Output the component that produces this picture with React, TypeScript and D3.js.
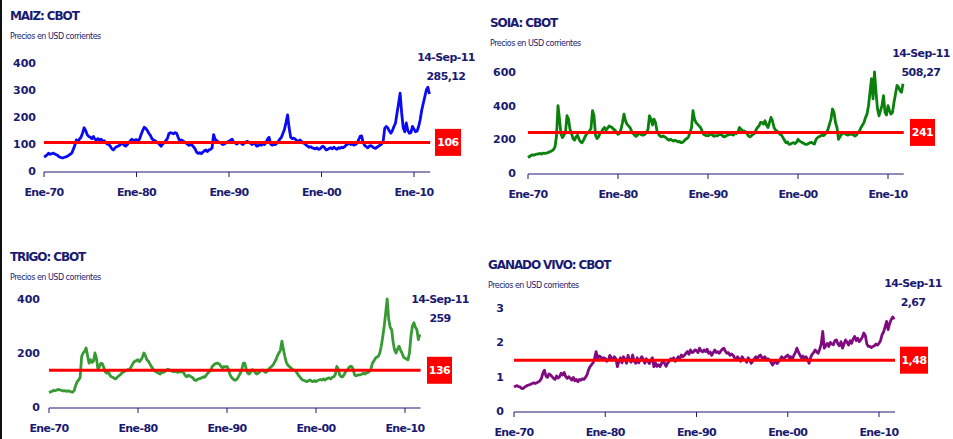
import React from "react";
import * as d3 from "d3";

// bimonthly closes (Jan, Mar, May, Jul, Sep, Nov) starting Jan-1970, ending Sep-2011
const maizValues = [
  52, 55, 60, 66, 62, 64, 66, 63, 60, 57, 52, 50, 48, 50, 52, 54, 58, 62,
  66, 80, 95, 115, 108, 118, 125, 140, 160, 150, 135, 128, 125, 120, 128, 118, 115, 120,
  115, 118, 110, 112, 105, 100, 98, 92, 82, 78, 85, 90, 92, 95, 100, 104, 95, 92,
  98, 105, 112, 118, 110, 115, 116, 112, 118, 135, 150, 162, 158, 150, 140, 132, 120, 115,
  112, 108, 104, 98, 92, 100, 105, 112, 120, 138, 142, 140, 138, 142, 140, 125, 112, 115,
  112, 108, 104, 100, 95, 98, 96, 90, 82, 70, 65, 68, 64, 70, 74, 78, 72, 78,
  80, 85, 135, 118, 112, 108, 106, 102, 98, 100, 104, 108, 110, 114, 118, 108, 104, 100,
  104, 106, 102, 98, 104, 108, 110, 106, 102, 98, 104, 100, 92, 94, 98, 96, 100, 98,
  105, 118, 125, 100, 96, 98, 98, 102, 110, 118, 125, 140, 155, 180, 208, 160, 125, 120,
  122, 118, 112, 108, 115, 110, 104, 102, 96, 92, 88, 90, 86, 84, 82, 86, 80, 82,
  88, 92, 86, 78, 80, 84, 86, 82, 88, 84, 80, 86, 84, 88, 86, 90, 96, 100,
  104, 98, 100, 96, 98, 102, 115, 128, 130, 105, 95, 90, 86, 92, 94, 90, 86, 84,
  88, 92, 96, 100, 110, 158, 165, 160, 148, 140, 150, 165, 178, 215, 250, 288, 215, 160,
  145, 178, 150, 140, 142, 165, 155, 145, 148, 165, 190, 225, 250, 275, 300, 310, 285,
];

const soiaValues = [
  92, 98, 104, 108, 106, 110, 112, 114, 116, 112, 118, 116, 118, 120, 124, 128, 132, 140,
  155, 220, 400, 320, 230, 210, 225, 245, 340, 320, 260, 235, 205, 195, 215, 225, 200, 185,
  180, 195, 215, 230, 240, 250, 265, 370, 340, 225, 205, 215, 235, 245, 260, 270, 255, 265,
  280, 275, 270, 260, 255, 240, 230, 235, 260, 300, 350, 310, 290, 280, 270, 250, 235, 225,
  218, 225, 240, 230, 225, 225, 230, 240, 260, 340, 320, 285, 320, 300, 250, 230, 220, 215,
  220, 215, 210, 200, 195, 200, 195, 190, 195, 190, 185, 188, 180, 182, 190, 200, 205, 215,
  240, 270, 370, 320, 300, 290, 280, 270, 250, 230, 225, 222, 220, 228, 232, 225, 218, 222,
  220, 225, 230, 228, 218, 215, 220, 225, 228, 232, 228, 225, 240, 235, 245, 270, 260, 250,
  250, 245, 235, 220, 215, 222, 230, 235, 255, 270, 280, 300, 300, 290, 310, 285, 270, 300,
  330, 310, 270, 255, 250, 240, 230, 225, 210, 195, 180, 185, 170, 172, 178, 180, 175, 182,
  200, 190, 185, 180, 175, 170, 170, 175, 180, 182, 176, 172, 200, 210, 215, 220, 225, 222,
  230, 240, 260, 290, 320, 380, 360, 300, 270, 200, 215, 230, 240, 235, 230, 225, 228, 232,
  230, 225, 220, 225, 240, 250, 270, 285, 300, 330, 350, 400, 480, 560, 440, 600, 480, 380,
  340, 370, 400, 460, 360, 345, 400, 370, 350, 360, 420, 470, 520, 510, 490, 480, 530,
];

const trigoValues = [
  54, 56, 58, 62, 60, 62, 65, 64, 62, 60, 61, 60, 58, 60, 58, 56, 55, 62,
  80, 94, 100, 110, 187, 200, 206, 219, 190, 162, 175, 165, 170, 200, 180, 140, 150, 162,
  160, 145, 130, 125, 130, 118, 112, 110, 106, 104, 110, 115, 119, 125, 130, 132, 135, 138,
  137, 145, 155, 165, 170, 172, 175, 168, 175, 185, 200, 190, 175, 170, 160, 150, 142, 135,
  131, 128, 125, 122, 130, 128, 131, 135, 140, 138, 135, 132, 131, 133, 130, 128, 132, 130,
  131, 125, 115, 112, 118, 114, 112, 108, 100, 98, 102, 104, 106, 108, 112, 110, 118, 125,
  131, 135, 150, 155, 160, 162, 162, 158, 150, 145, 150, 148, 150, 140, 120, 110, 104, 100,
  100, 105, 115, 125, 140, 162, 162, 140, 125, 122, 130, 138, 137, 128, 122, 125, 130, 135,
  137, 132, 128, 131, 140, 145, 150, 155, 165, 175, 190, 200, 210, 244, 215, 187, 165, 155,
  150, 145, 140, 137, 135, 128, 119, 112, 105, 100, 98, 96, 94, 98, 100, 96, 94, 98,
  94, 98, 100, 102, 100, 104, 100, 104, 106, 108, 104, 110, 112, 120, 150, 140, 118, 112,
  112, 120, 131, 135, 145, 150, 150, 140, 119, 115, 118, 119, 119, 122, 125, 122, 126, 128,
  131, 140, 162, 170, 180, 185, 187, 200, 225, 260, 300, 350, 400, 325, 295, 287, 240, 210,
  200, 215, 225, 210, 200, 185, 181, 178, 175, 200, 262, 300, 312, 295, 287, 250, 269,
];

const ganadoValues = [
  0.7, 0.72, 0.74, 0.71, 0.7, 0.66, 0.65, 0.7, 0.72, 0.75, 0.76, 0.78, 0.8, 0.82, 0.8, 0.82, 0.85, 0.88,
  0.95, 1.1, 1.19, 1.02, 0.98, 1.08, 1.05, 1.0, 0.95, 0.92, 1.02, 0.96, 1.0, 1.1, 1.05, 1.12, 1.0, 0.95,
  1.0, 0.95, 0.9, 0.98, 0.88, 0.92, 0.85, 0.92, 0.9, 0.94, 0.92, 0.98, 1.05, 1.2, 1.29, 1.35, 1.4, 1.55,
  1.73, 1.49, 1.6, 1.58, 1.5, 1.55, 1.53, 1.45, 1.49, 1.62, 1.55, 1.48, 1.58, 1.52, 1.29, 1.45, 1.55, 1.4,
  1.58, 1.5, 1.39, 1.62, 1.48, 1.42, 1.63, 1.45, 1.39, 1.55, 1.4, 1.5, 1.58, 1.5, 1.39, 1.52, 1.45, 1.38,
  1.49, 1.55, 1.29, 1.4, 1.3, 1.35, 1.29, 1.38, 1.45, 1.39, 1.3, 1.4, 1.44, 1.52, 1.49, 1.55, 1.45, 1.5,
  1.58, 1.52, 1.63, 1.58, 1.62, 1.68, 1.73, 1.65, 1.78, 1.7, 1.72, 1.78, 1.76, 1.7, 1.83, 1.75, 1.72, 1.78,
  1.73, 1.8, 1.68, 1.72, 1.62, 1.7, 1.78, 1.7, 1.73, 1.68, 1.75, 1.8, 1.83, 1.74, 1.68, 1.7, 1.62, 1.66,
  1.63, 1.55, 1.49, 1.58, 1.52, 1.45, 1.58, 1.5, 1.49, 1.42, 1.55, 1.48, 1.39, 1.45, 1.52, 1.58, 1.5, 1.6,
  1.63, 1.55, 1.53, 1.58, 1.48, 1.52, 1.49, 1.42, 1.34, 1.4, 1.45, 1.38, 1.44, 1.5, 1.58, 1.52, 1.55, 1.6,
  1.63, 1.55, 1.58, 1.5, 1.62, 1.7, 1.83, 1.72, 1.63, 1.55, 1.6, 1.52, 1.58, 1.5, 1.39, 1.55, 1.65, 1.7,
  1.78, 1.72, 1.68, 1.8, 1.95, 2.32, 1.83, 1.9, 1.97, 1.88, 2.0, 1.95, 1.93, 2.05, 2.07, 1.95, 1.9, 2.02,
  1.83, 1.95, 2.07, 2.0, 1.92, 2.05, 1.97, 2.1, 2.17, 2.05, 2.12, 2.02, 2.07, 2.15, 2.27, 2.2, 1.95, 1.88,
  1.88, 1.85, 1.88, 1.9, 1.95, 1.92, 1.97, 2.05, 2.22, 2.3, 2.45, 2.61, 2.37, 2.55, 2.66, 2.74, 2.67,
];

const decadeTicks = [1970, 1980, 1990, 2000, 2010];
const decadeLabels = ["Ene-70", "Ene-80", "Ene-90", "Ene-00", "Ene-10"];
const lastDate = "14-Sep-11";

const NAVY = "#1a1a70";
const FONT = "'DejaVu Sans', Verdana, sans-serif";

type Panel = {
  title: string;
  values: number[];
  color: string;
  yTicks: number[];
  average: number;
  averageLabel: string;
  lastLabel: string;
  // layout
  x70: number;
  x10: number;
  y0: number;
  yTop: number;
  titleX: number;
  titleY: number;
  labelRight: number;
  boxX: number;
  boxW: number;
  noteX: number;
  noteY: number;
};

const panels: Panel[] = [
  {
    title: "MAIZ: CBOT", values: maizValues, color: "#0a0af5",
    yTicks: [0, 100, 200, 300, 400], average: 106, averageLabel: "106", lastLabel: "285,12",
    x70: 44, x10: 414, y0: 171, yTop: 63, titleX: 10, titleY: 20, labelRight: 36,
    boxX: 435, boxW: 26, noteX: 446, noteY: 61,
  },
  {
    title: "SOIA: CBOT", values: soiaValues, color: "#0b800d",
    yTicks: [0, 200, 400, 600], average: 241, averageLabel: "241", lastLabel: "508,27",
    x70: 528, x10: 888, y0: 173, yTop: 72, titleX: 490, titleY: 27, labelRight: 516,
    boxX: 910, boxW: 25, noteX: 921, noteY: 57,
  },
  {
    title: "TRIGO: CBOT", values: trigoValues, color: "#379a32",
    yTicks: [0, 200, 400], average: 136, averageLabel: "136", lastLabel: "259",
    x70: 49, x10: 405, y0: 407, yTop: 299, titleX: 10, titleY: 261, labelRight: 40,
    boxX: 427, boxW: 25, noteX: 440, noteY: 303,
  },
  {
    title: "GANADO VIVO: CBOT", values: ganadoValues, color: "#800a80",
    yTicks: [0, 1, 2, 3], average: 1.48, averageLabel: "1,48", lastLabel: "2,67",
    x70: 514, x10: 879, y0: 411, yTop: 308, titleX: 488, titleY: 269, labelRight: 504,
    boxX: 900, boxW: 28, noteX: 913, noteY: 287,
  },
];

function ChartPanel({ p }: { p: Panel }) {
  const x = d3.scaleLinear().domain([1970, 2010]).range([p.x70, p.x10]);
  const maxTick = p.yTicks[p.yTicks.length - 1];
  const y = d3.scaleLinear().domain([0, maxTick]).range([p.y0, p.yTop]);
  const xEnd = x(2011.75);
  const axisY = p.y0 + 1;

  const line = d3
    .line<number>()
    .x((_, i) => x(1970 + i / 6))
    .y((d) => y(d));

  const avgY = y(p.average);

  return (
    <g>
      <text x={p.titleX} y={p.titleY} fill={NAVY} fontFamily={FONT} fontWeight="bold"
        fontSize={12} letterSpacing={-1.1}>{p.title}</text>
      <text x={p.titleX} y={p.titleY + 19} fill={NAVY} fontFamily={FONT}
        fontSize={8} letterSpacing={-0.5}>Precios en USD corrientes</text>

      {p.yTicks.map((t) => (
        <text key={t} x={p.labelRight} y={y(t)} dy="0.36em" textAnchor="end" fill={NAVY}
          fontFamily={FONT} fontWeight="bold" fontSize={11}>{t}</text>
      ))}

      <line x1={p.x70} x2={xEnd} y1={axisY} y2={axisY} stroke={NAVY} strokeWidth={1} />
      {decadeTicks.map((t, i) => (
        <g key={t}>
          <line x1={x(t)} x2={x(t)} y1={axisY} y2={axisY + 5} stroke={NAVY} strokeWidth={1} />
          <text x={x(t)} y={axisY + 24} textAnchor="middle" fill={NAVY} fontFamily={FONT}
            fontWeight="bold" fontSize={11} letterSpacing={-0.6}>{decadeLabels[i]}</text>
        </g>
      ))}

      <path d={line(p.values) ?? ""} fill="none" stroke={p.color} strokeWidth={2.8}
        strokeLinejoin="round" />
      <line x1={p.x70} x2={xEnd} y1={avgY} y2={avgY} stroke="#ff0000" strokeWidth={3} />

      <rect x={p.boxX} y={avgY - 13.5} width={p.boxW} height={27} fill="#ff0000" />
      <text x={p.boxX + p.boxW / 2} y={avgY} dy="0.36em" textAnchor="middle" fill="#fff"
        fontFamily={FONT} fontWeight="bold" fontSize={11} letterSpacing={-0.5}>{p.averageLabel}</text>

      <text x={p.noteX} y={p.noteY} textAnchor="middle" fill={NAVY} fontFamily={FONT}
        fontWeight="bold" fontSize={11} letterSpacing={-0.6}>{lastDate}</text>
      <text x={p.noteX} y={p.noteY + 19} textAnchor="middle" fill={NAVY} fontFamily={FONT}
        fontWeight="bold" fontSize={11} letterSpacing={-0.6}>{p.lastLabel}</text>
    </g>
  );
}

export default function App() {
  return (
    <div style={{ position: "absolute", left: 0, top: 0 }}>
      <svg width={953} height={439} style={{ display: "block", background: "#fff" }}>
        <rect x={0} y={0} width={2} height={439} fill="#111" />
        {panels.map((p) => (
          <ChartPanel key={p.title} p={p} />
        ))}
      </svg>
    </div>
  );
}
